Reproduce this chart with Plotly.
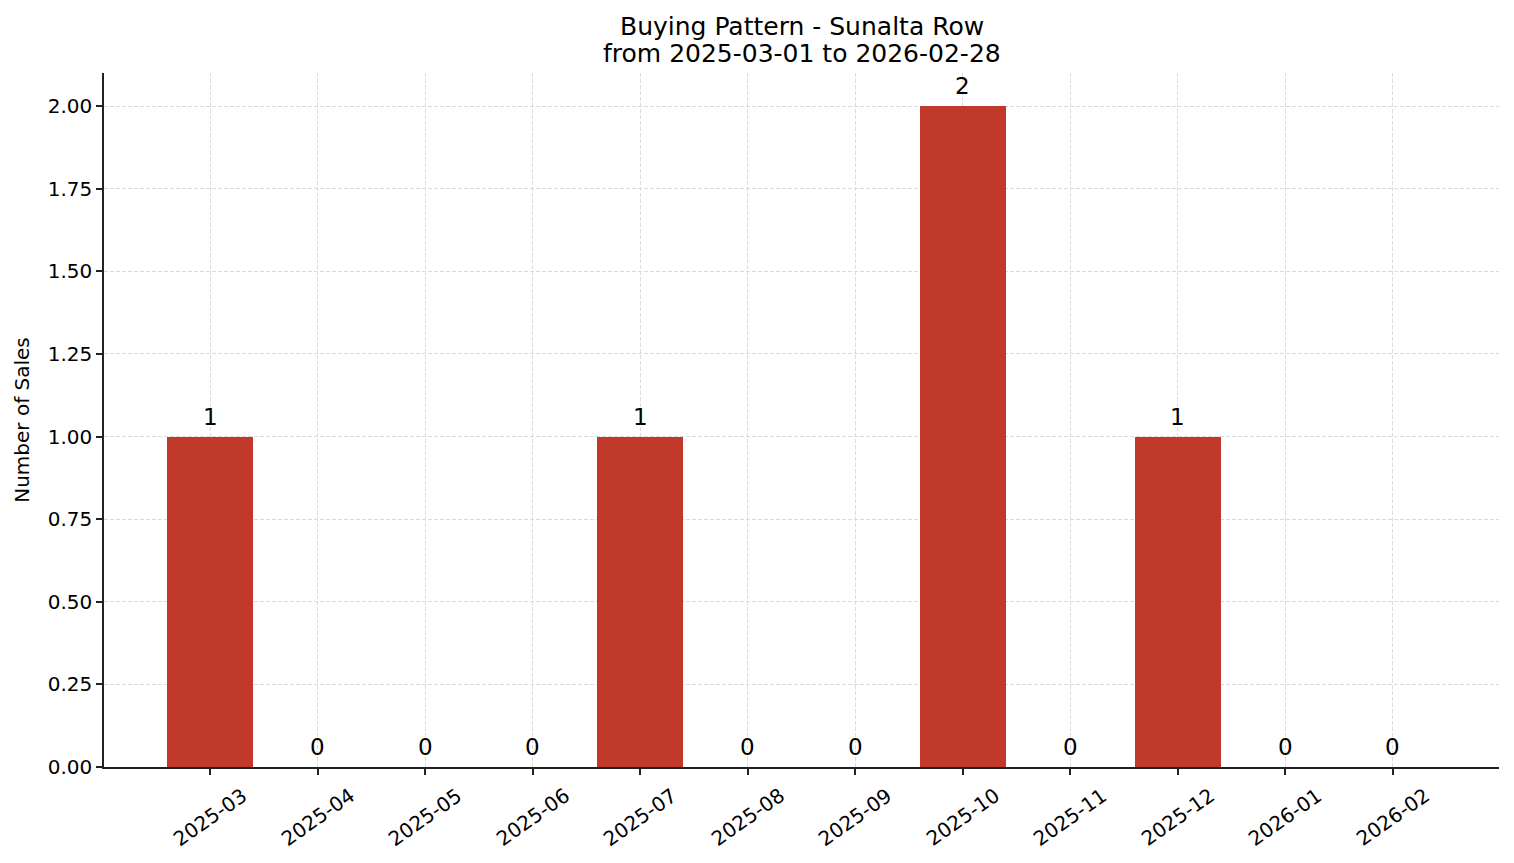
import plotly.graph_objects as go

# monthly sales counts
months = ["2025-03", "2025-04", "2025-05", "2025-06", "2025-07", "2025-08",
          "2025-09", "2025-10", "2025-11", "2025-12", "2026-01", "2026-02"]
sales = [1, 0, 0, 0, 1, 0, 0, 2, 0, 1, 0, 0]
y_ticks = [0, 0.25, 0.5, 0.75, 1.0, 1.25, 1.5, 1.75, 2.0]
title_lines = ["Buying Pattern - Sunalta Row", "from 2025-03-01 to 2026-02-28"]

FONT = "DejaVu Sans"
idx = list(range(len(months)))

fig = go.Figure(go.Bar(
    x=idx, y=sales, width=0.8,
    marker=dict(color="#c0392b", line=dict(width=0)),
))

# value labels above bars
for i, v in zip(idx, sales):
    fig.add_annotation(x=i, y=v, text=str(v), showarrow=False,
                       yanchor="bottom", yshift=5,
                       font=dict(family=FONT, size=23, color="black"))

# rotated month labels (centred under the ticks, like matplotlib)
for i, m in zip(idx, months):
    fig.add_annotation(x=i, y=0, yref="paper", text=m, showarrow=False,
                       textangle=-35, xanchor="center", yanchor="top",
                       yshift=-13,
                       font=dict(family=FONT, size=20, color="black"))

# two-line title, one annotation per line for tighter spacing
for k, line in enumerate(title_lines):
    fig.add_annotation(x=0.5, xref="paper", y=1, yref="paper", text=line,
                       showarrow=False, xanchor="center", yanchor="middle",
                       yshift=73 - 26 - 27 * k,
                       font=dict(family=FONT, size=25, color="black"))

fig.update_layout(
    width=1514, height=863,
    plot_bgcolor="white", paper_bgcolor="white",
    margin=dict(l=104, r=15, t=73, b=96),
    showlegend=False,
    font=dict(family=FONT, size=20, color="black"),
    bargap=0,
)
grid = dict(showgrid=True, gridcolor="#dcdcdc", griddash="4px,2px", gridwidth=0.8)
fig.update_xaxes(
    range=[-0.99, 11.99], tickvals=idx, showticklabels=False,
    ticks="outside", ticklen=6, tickwidth=1.5, tickcolor="#222",
    showline=True, linecolor="#222", linewidth=1.5,
    zeroline=False, **grid,
)
fig.update_yaxes(
    range=[0, 2.1], tickvals=y_ticks, tickformat=".2f",
    ticks="outside", ticklen=6, tickwidth=1.5, tickcolor="#222",
    showline=True, linecolor="#222", linewidth=1.5,
    zeroline=False, **grid,
    title=dict(text="Number of Sales", standoff=13,
               font=dict(family=FONT, size=20)),
    tickfont=dict(family=FONT, size=20),
)

fig.write_html("out.html", config={"displayModeBar": False},
               post_script="document.body.style.margin='0';")
